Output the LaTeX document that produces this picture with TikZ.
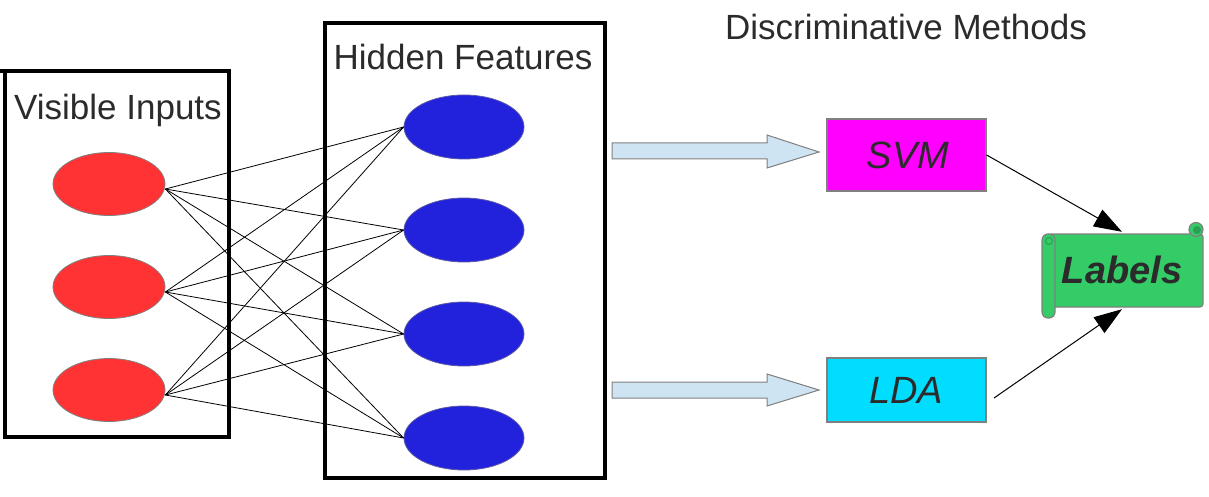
\documentclass[tikz,border=0pt]{standalone}
\usepackage{fontspec}
\setmainfont{Liberation Sans}
\usetikzlibrary{shapes.geometric,arrows.meta,calc}
\definecolor{txt}{HTML}{2B2B2B}
\definecolor{redin}{HTML}{FF3333}
\definecolor{bluein}{HTML}{2222DD}
\definecolor{arrfill}{HTML}{CFE4F2}
\definecolor{svmc}{HTML}{FF00FF}
\definecolor{ldac}{HTML}{00DDFF}
\definecolor{labc}{HTML}{33CC66}
\definecolor{labd}{HTML}{2A9F55}
\tikzset{
  title/.style={text=txt,font=\fontsize{35}{40}\selectfont,anchor=base,inner sep=0},
  layerbox/.style={draw=black,line width=3.6pt},
  vis/.style={ellipse,fill=redin,draw=gray,line width=0.8pt,minimum width=112pt,minimum height=63pt,inner sep=0},
  hid/.style={ellipse,fill=bluein,draw=gray!70!blue,line width=0.8pt,minimum width=120pt,minimum height=64pt,inner sep=0},
  conn/.style={draw=black,line width=0.8pt},
  blockarrow/.style={fill=arrfill,draw=gray,line width=1pt},
  method/.style={draw=gray,line width=1.2pt,minimum width=159pt,inner sep=0},
  mtext/.style={text=txt,font=\fontsize{38}{42}\selectfont\itshape,anchor=base,inner sep=0},
  scroll/.style={fill=labc,draw=gray,line width=1.2pt},
  toLabel/.style={draw=black,line width=1pt,-{Triangle[length=28pt,width=19pt]}}
}
\begin{document}
\begin{tikzpicture}[x=1pt,y=-1pt]
\useasboundingbox (0,0) rectangle (1209,497);
% layer boxes
\draw[layerbox] (5,71) rectangle (229,437);
\draw[layerbox] (0,71) -- (5,71);
\draw[layerbox] (325,23) rectangle (605,478);
% titles
\node[title] (tvis) at (118,120) {Visible Inputs};
\node[title] (thid) at (463,70) {Hidden Features};
\node[title] (tdis) at (906,40) {Discriminative Methods};
% ellipses
\node[vis] (r1) at (109,184) {};
\node[vis] (r2) at (109,287) {};
\node[vis] (r3) at (109,390) {};
\node[hid] (b1) at (464,127) {};
\node[hid] (b2) at (464,230) {};
\node[hid] (b3) at (464,334) {};
\node[hid] (b4) at (464,438) {};
% connections
\foreach \r in {1,2,3}{
  \foreach \b in {1,2,3,4}{
    \draw[conn] ($(r\r.east)+(0,5)$) -- (b\b.west);
  }
}
% block arrows
\draw[blockarrow] (612,143) -- (767,143) -- (767,135) -- (819,152) -- (767,168) -- (767,159) -- (612,159) -- cycle;
\draw[blockarrow] (612,382) -- (767,382) -- (767,374) -- (819,390) -- (767,406) -- (767,398) -- (612,398) -- cycle;
% method boxes
\node[method,fill=svmc,minimum height=72pt] (svm) at (906.5,155) {};
\node[mtext] at (908,169) {SVM};
\node[method,fill=ldac,minimum height=64pt] (lda) at (906.5,390) {};
\node[mtext] at (906,403) {LDA};
% labels scroll
\draw[scroll,rounded corners=3pt] (1048,234) rectangle (1203,307);
\draw[scroll] (1196,229.5) circle[radius=7];
\fill[labd] (1197,230) circle[radius=4];
\draw[scroll,rounded corners=6pt] (1042,234) rectangle (1055,318);
\draw[labd,line width=1pt] (1049,241) circle[radius=3.5];
\node[inner sep=0,minimum width=161pt,minimum height=77pt] (lab) at (1122,270.5) {};
\node[text=txt,font=\fontsize{38}{42}\selectfont\bfseries\itshape,anchor=base,inner sep=0] at (1122,283) {Labels};
% arrows to labels
\coordinate (ldaout) at (994,398);
\draw[toLabel] (svm.east) -- (lab.north);
\draw[toLabel] (ldaout) -- (lab.south);
\end{tikzpicture}
\end{document}
